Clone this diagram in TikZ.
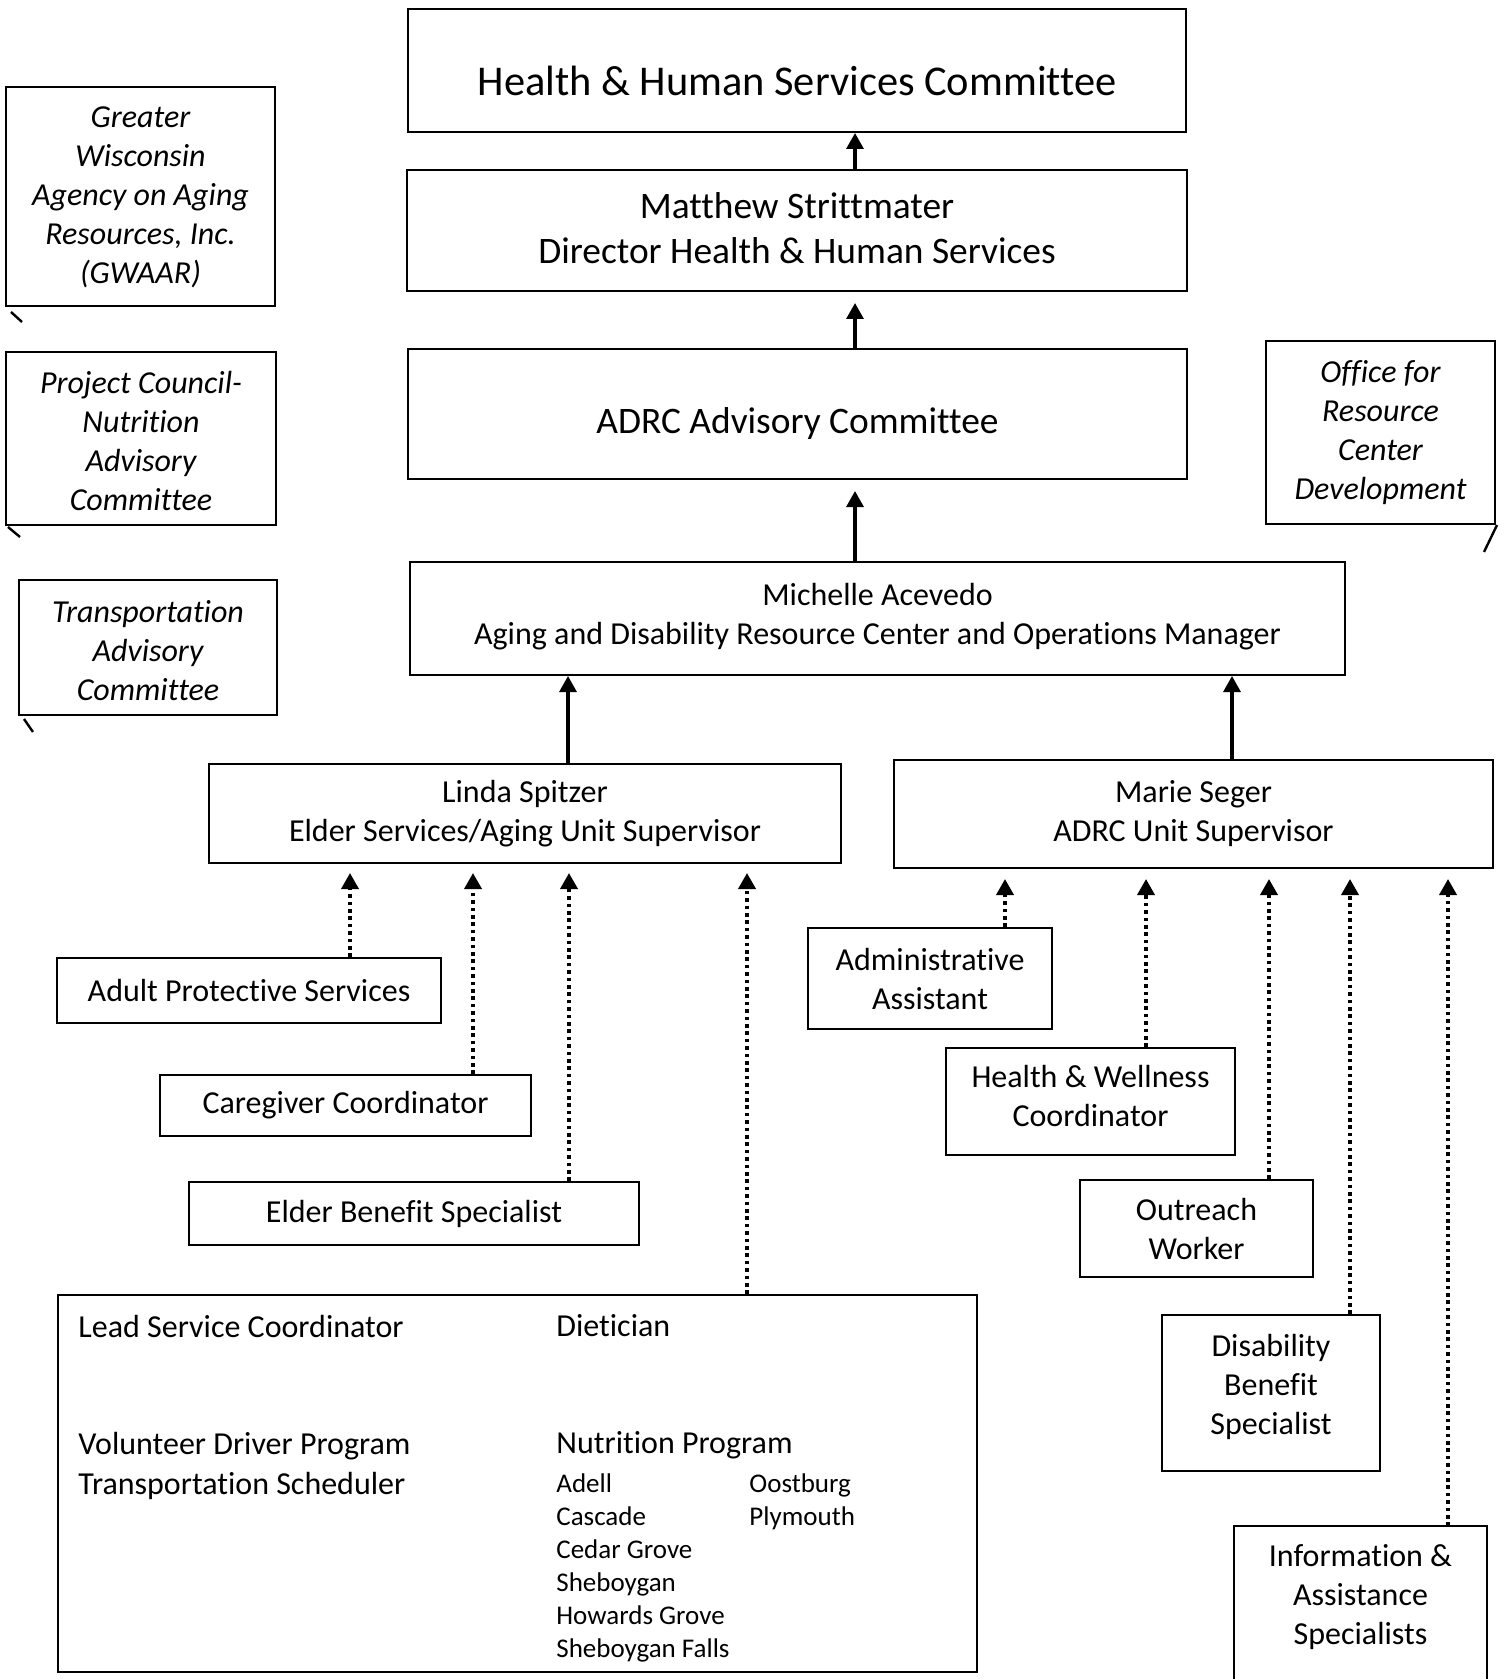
\documentclass[tikz,border=0pt]{standalone}
\usepackage{fontspec}
\setmainfont{Carlito}[Ligatures=NoCommon]
\usetikzlibrary{arrows.meta}
\newcommand\myfA{\fontsize{21.2}{25}\selectfont}
\newcommand\myfB{\fontsize{18.7}{22.5}\selectfont}
\newcommand\myfC{\fontsize{16}{19.5}\selectfont}
\newcommand\myfD{\fontsize{13.5}{16.5}\selectfont}
\begin{document}
\begin{tikzpicture}[x=0.5pt,y=-0.5pt,
  box/.style={draw, line width=1pt, inner sep=0pt, align=center, font=\myfC},
  ibox/.style={box, font=\myfC\itshape},
  txt/.style={inner sep=0pt, align=center, font=\myfC},
  itxt/.style={txt, font=\myfC\itshape},
  lbl/.style={anchor=base west, inner sep=0pt, font=\myfC},
  town/.style={anchor=base west, inner sep=0pt, font=\myfD},
  frame/.style={line width=1pt},
  tick/.style={line width=1.2pt},
  solidarr/.style={-{Triangle[width=8.5pt,length=8pt]}, line width=1.6pt},
  dotarr/.style={-{Triangle[width=8.5pt,length=8pt]}, line width=1.8pt, dash pattern=on 1.8pt off 1.9pt, shorten >=4.5pt}]
\useasboundingbox (0,0) rectangle (1507,1679);
\path[fill=white] (0,0) rectangle (1507,1679);

% top chain
\node[box, minimum width=389pt, minimum height=61.5pt] (hhs) at (797,70.5) {};
\node[txt, font=\myfA] (hhsT) at (797,81) {Health \& Human Services Committee};
\node[box, minimum width=390pt, minimum height=60.5pt] (dir) at (797,230.5) {};
\node[txt, font=\myfB] (dirT) at (797,228.5) {Matthew Strittmater\\Director Health \& Human Services};
\node[box, minimum width=389.5pt, minimum height=65pt] (adv) at (797.5,414) {};
\node[txt, font=\myfB] (advT) at (797.5,423.5) {ADRC Advisory Committee};
\node[box, minimum width=467.5pt, minimum height=56.5pt] (mgr) at (877.5,618.5) {};
\node[txt] (mgrT) at (877.5,616.5) {Michelle Acevedo\\Aging and Disability Resource Center and Operations Manager};
\node[box, minimum width=316pt, minimum height=49.5pt] (linda) at (525,813.5) {Linda Spitzer\\Elder Services/Aging Unit Supervisor};
\node[box, minimum width=299.5pt, minimum height=54pt] (marie) at (1193.5,814) {Marie Seger\\ADRC Unit Supervisor};

% left staff
\node[box, minimum width=192pt, minimum height=32.5pt] (aps) at (249,990.5) {Adult Protective Services};
\node[box, minimum width=185.5pt, minimum height=30.5pt] (cg) at (345.5,1105.5) {Caregiver Coordinator};
\node[box, minimum width=225pt, minimum height=31.5pt] (ebs) at (414,1213.5) {Elder Benefit Specialist};
\node[box, minimum width=459.5pt, minimum height=188.5pt] (big) at (517.5,1483.5) {};
\node[lbl] (lsc) at (78,1337) {Lead Service Coordinator};
\node[lbl] (diet) at (556,1336) {Dietician};
\node[lbl] (vdp) at (78,1454) {Volunteer Driver Program};
\node[lbl] (tsch) at (78,1494) {Transportation Scheduler};
\node[lbl] (nutr) at (556,1453) {Nutrition Program};
\node[town] (t1) at (556,1492) {Adell};
\node[town] (t2) at (556,1525) {Cascade};
\node[town] (t3) at (556,1558) {Cedar Grove};
\node[town] (t4) at (556,1591) {Sheboygan};
\node[town] (t5) at (556,1624) {Howards Grove};
\node[town] (t6) at (556,1657) {Sheboygan Falls};
\node[town] (t7) at (749,1492) {Oostburg};
\node[town] (t8) at (749,1525) {Plymouth};

% right staff
\node[box, minimum width=122pt, minimum height=50.5pt] (aa) at (930,978.5) {Administrative\\Assistant};
\node[box, minimum width=144.5pt, minimum height=53.5pt] (hw) at (1090.5,1101.5) {};
\node[txt] (hwT) at (1090.5,1096) {Health \& Wellness\\Coordinator};
\node[box, minimum width=116.5pt, minimum height=48.5pt] (ow) at (1196.5,1228.5) {Outreach\\Worker};
\node[box, minimum width=109pt, minimum height=78pt] (dbs) at (1271,1393) {};
\node[txt] (dbsT) at (1271,1386.5) {Disability\\Benefit\\Specialist};
\node[txt] (ias) at (1360.5,1597) {Information \&\\Assistance\\Specialists};
\draw[frame] (1234,1681) -- (1234,1526) -- (1487,1526) -- (1487,1681);
\coordinate (iasTop) at (1448,1526);

% italic side boxes
\node[ibox, minimum width=134.5pt, minimum height=109.5pt] (gw) at (140.5,196.5) {};
\node[itxt] (gwT) at (140.5,197.5) {Greater\\Wisconsin\\Agency on Aging\\Resources, Inc.\\(GWAAR)};
\node[ibox, minimum width=135pt, minimum height=86.5pt] (pc) at (141,438.5) {};
\node[itxt] (pcT) at (141,441.5) {Project Council-\\Nutrition\\Advisory\\Committee};
\node[ibox, minimum width=129pt, minimum height=67.5pt] (ta) at (148,647.5) {};
\node[itxt] (taT) at (148,650.5) {Transportation\\Advisory\\Committee};
\node[ibox, minimum width=114.5pt, minimum height=91.5pt] (orc) at (1380.5,432.5) {Office for\\Resource\\Center\\Development};
\draw[tick] ([shift={(6,5)}]gw.south west) -- ++(11,10);
\draw[tick] ([shift={(3,1)}]pc.south west) -- ++(12,10);
\draw[tick] ([shift={(6,3)}]ta.south west) -- ++(9,13);
\draw[tick] ([shift={(1,0)}]orc.south east) -- ++(-13,27);

% solid arrows
\coordinate (xTop) at (855,0);
\coordinate (xL) at (568,0);
\coordinate (xM) at (1232,0);
\draw[solidarr] (dir.north -| xTop) -- (hhs.south -| xTop);
\draw[solidarr, shorten >=5.5pt] (adv.north -| xTop) -- (dir.south -| xTop);
\draw[solidarr, shorten >=5.5pt] (mgr.north -| xTop) -- (adv.south -| xTop);
\draw[solidarr] (linda.north -| xL) -- (mgr.south -| xL);
\draw[solidarr] (marie.north -| xM) -- (mgr.south -| xM);

% dotted arrows to Linda
\coordinate (d1) at (350,0);
\coordinate (d2) at (473,0);
\coordinate (d3) at (569,0);
\coordinate (d4) at (747,0);
\draw[dotarr] (aps.north -| d1) -- (linda.south -| d1);
\draw[dotarr] (cg.north -| d2) -- (linda.south -| d2);
\draw[dotarr] (ebs.north -| d3) -- (linda.south -| d3);
\draw[dotarr] (big.north -| d4) -- (linda.south -| d4);

% dotted arrows to Marie
\coordinate (e1) at (1005,0);
\coordinate (e2) at (1146,0);
\coordinate (e3) at (1269,0);
\coordinate (e4) at (1350,0);
\draw[dotarr, shorten >=5pt] (aa.north -| e1) -- (marie.south -| e1);
\draw[dotarr, shorten >=5pt] (hw.north -| e2) -- (marie.south -| e2);
\draw[dotarr, shorten >=5pt] (ow.north -| e3) -- (marie.south -| e3);
\draw[dotarr, shorten >=5pt] (dbs.north -| e4) -- (marie.south -| e4);
\draw[dotarr, shorten >=5pt] (iasTop) -- (marie.south -| iasTop);
\end{tikzpicture}
\end{document}
